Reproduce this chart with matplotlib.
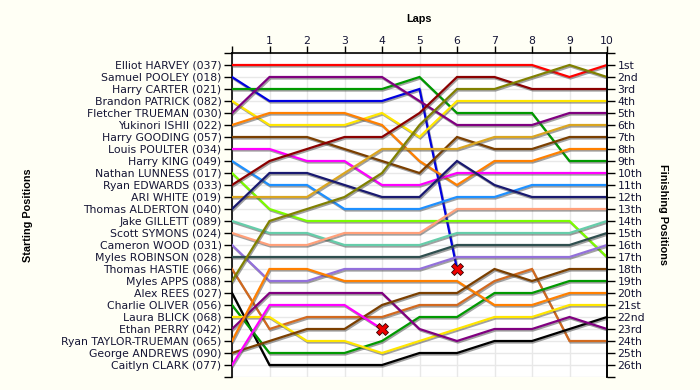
import numpy as np
import matplotlib
matplotlib.use('Agg')
import matplotlib.pyplot as plt
import matplotlib.patheffects as pe

# ---------------------------------------------------------------
# Data: driver names (starting order), colours, lap positions
# nan = retired
# ---------------------------------------------------------------
drivers = ['Elliot HARVEY (037)', 'Samuel POOLEY (018)', 'Harry CARTER (021)',
           'Brandon PATRICK (082)', 'Fletcher TRUEMAN (030)', 'Yukinori ISHII (022)',
           'Harry GOODING (057)', 'Louis POULTER (034)', 'Harry KING (049)',
           'Nathan LUNNESS (017)', 'Ryan EDWARDS (033)', 'ARI WHITE (019)',
           'Thomas ALDERTON (040)', 'Jake GILLETT (089)', 'Scott SYMONS (024)',
           'Cameron WOOD (031)', 'Myles ROBINSON (028)', 'Thomas HASTIE (066)',
           'Myles APPS (088)', 'Alex REES (027)', 'Charlie OLIVER (056)',
           'Laura BLICK (068)', 'Ethan PERRY (042)', 'Ryan TAYLOR-TRUEMAN (065)',
           'George ANDREWS (090)', 'Caitlyn CLARK (077)']

colours = ['#ff0000', '#0000e0', '#009900', '#ffe600', '#800080', '#ff8000',
           '#7b3f00', '#ff00ff', '#1e90ff', '#7cfc00', '#8b0000', '#daa520',
           '#191970', '#66cdaa', '#ffa07a', '#9370db', '#2f4f4f', '#d2691e',
           '#808000', '#000000', '#009900', '#ffe600', '#800080', '#ff8000',
           '#7b3f00', '#ff00ff']

nan = np.nan
# positions at lap 0..10
laps = np.arange(0, 11)
positions = [
    [1, 1, 1, 1, 1, 1, 1, 1, 1, 2, 1],
    [2, 4, 4, 4, 4, 3, 18, nan, nan, nan, nan],
    [3, 3, 3, 3, 3, 2, 5, 5, 5, 9, 9],
    [4, 6, 6, 6, 5, 7, 4, 4, 4, 4, 4],
    [5, 2, 2, 2, 2, 4, 6, 6, 6, 5, 5],
    [6, 5, 5, 5, 6, 9, 11, 9, 9, 8, 8],
    [7, 7, 7, 8, 9, 10, 7, 8, 8, 7, 7],
    [8, 8, 9, 9, 11, 11, 10, 10, 10, 10, 10],
    [9, 11, 11, 13, 13, 13, 12, 12, 11, 11, 11],
    [10, 13, 14, 14, 14, 14, 14, 14, 14, 14, 17],
    [11, 9, 8, 7, 7, 5, 2, 2, 3, 3, 3],
    [12, 12, 12, 10, 8, 8, 8, 7, 7, 6, 6],
    [13, 10, 10, 11, 12, 12, 9, 11, 12, 12, 12],
    [14, 15, 15, 16, 16, 16, 15, 15, 15, 15, 14],
    [15, 16, 16, 15, 15, 15, 13, 13, 13, 13, 13],
    [16, 19, 19, 18, 18, 18, 17, 17, 17, 17, 16],
    [17, 17, 17, 17, 17, 17, 16, 16, 16, 16, 15],
    [18, 23, 22, 22, 22, 21, 21, 19, 18, 24, 24],
    [19, 14, 13, 12, 10, 6, 3, 3, 2, 1, 2],
    [20, 26, 26, 26, 26, 25, 25, 24, 24, 23, 22],
    [21, 25, 25, 25, 24, 22, 22, 20, 20, 19, 19],
    [22, 22, 24, 24, 25, 24, 23, 22, 22, 21, 21],
    [23, 20, 20, 20, 20, 23, 24, 23, 23, 22, 23],
    [24, 18, 18, 19, 19, 19, 19, 21, 21, 20, 20],
    [25, 24, 23, 23, 21, 20, 20, 18, 19, 18, 18],
    [26, 21, 21, 21, 23, nan, nan, nan, nan, nan, nan],
]
finish_labels = ['1st', '2nd', '3rd', '4th', '5th', '6th', '7th', '8th', '9th',
                 '10th', '11th', '12th', '13th', '14th', '15th', '16th', '17th',
                 '18th', '19th', '20th', '21st', '22nd', '23rd', '24th', '25th',
                 '26th']

#=======================================================================
# Figure
#=======================================================================
plt.rcParams['font.family'] = ['DejaVu Sans']
txtColour = '#151535'
bgColour = '#fffff5'
tickSize = 7.8
titleFont = dict(family='Liberation Sans', fontsize=7.8, fontweight='bold',
                 color='black', ha='center', va='center')

fig = plt.figure(figsize=(7, 3.9), dpi=100, facecolor=bgColour)
ax = fig.add_axes([232/700, 1-377/390, (607-232)/700, (377-53)/390])
ax.set_facecolor('white')

nDrv = len(drivers)
ax.set_xlim(0, 10)
ax.set_ylim(nDrv + 1, 0)

# grid
for x in laps:
    ax.axvline(x, color='#e8e8e8', lw=1, zorder=0)
for y in range(0, nDrv + 2):
    ax.axhline(y, color='#e8e8e8', lw=1, zorder=0)

shadow = [pe.SimpleLineShadow(offset=(0.7, -1.1), shadow_color='#444444', alpha=0.5),
          pe.Normal()]

for i in range(nDrv):
    pos = np.array(positions[i], dtype=float)
    ax.plot(laps, pos, color=colours[i], lw=1.6, solid_joinstyle='miter',
            path_effects=shadow, zorder=3)
    # retirement marker
    valid = np.where(~np.isnan(pos))[0]
    if valid[-1] < len(laps) - 1:
        ax.plot(laps[valid[-1]], pos[valid[-1]], marker='X', ms=8.5,
                color='#ee0000', mec='#330000', mew=0.6, zorder=5)

# spines
ax.spines['bottom'].set_visible(False)
for s in ['left', 'top', 'right']:
    ax.spines[s].set_linewidth(1.2)

# top axis: laps
ax.xaxis.tick_top()
ax.set_xticks(laps)
ax.set_xticklabels([''] + [str(l) for l in laps[1:]])
ax.tick_params(axis='x', direction='out', length=5, width=1, pad=0,
               labelsize=tickSize, labelcolor=txtColour)

# left axis: starting positions
yt = np.arange(0, nDrv + 2)
ax.set_yticks(yt)
ax.set_yticklabels([''] + drivers + [''])
ax.tick_params(axis='y', direction='out', length=6, width=1, pad=1.5,
               labelsize=tickSize, labelcolor=txtColour)

# right axis: finishing positions
ax2 = ax.twinx()
ax2.set_ylim(ax.get_ylim())
ax2.set_yticks(yt)
ax2.set_yticklabels([''] + finish_labels + [''])
ax2.tick_params(axis='y', direction='out', length=6, width=1, pad=1.5,
                labelsize=tickSize, labelcolor=txtColour)
for s in ['left', 'top', 'bottom']:
    ax2.spines[s].set_visible(False)
ax2.spines['right'].set_linewidth(1.2)

# axis titles
fig.text(419/700, 1-19/390, 'Laps', **titleFont)
fig.text(28/700, 1-215/390, 'Starting Positions', rotation=90, **titleFont)
fig.text(663/700, 1-214/390, 'Finishing Positions', rotation=-90, **titleFont)

fig.savefig('out.png', dpi=100, facecolor=bgColour)
